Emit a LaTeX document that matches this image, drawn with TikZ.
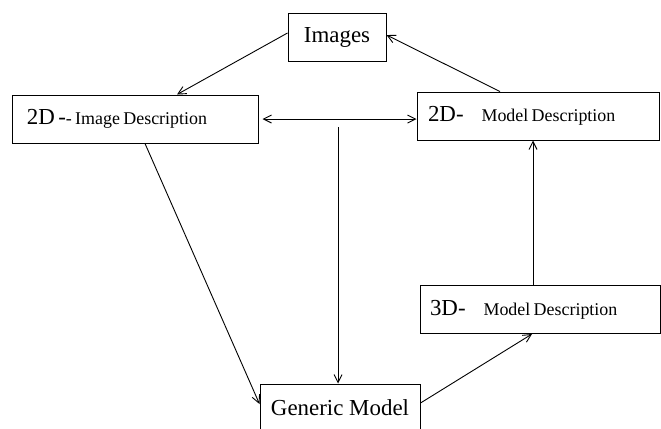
\documentclass[tikz,border=0pt]{standalone}
\usepackage{fontspec}
\setmainfont{Liberation Serif}
\usepackage{tikz}
\usetikzlibrary{
	arrows.meta,
	positioning,
	calc
}

\newcommand{\bigtxt}{\fontsize{23}{26}\selectfont}
\newcommand{\smalltxt}{\fontsize{18}{21}\selectfont}

\tikzset{
	descbox/.style={draw,rectangle,line width=1bp,inner ysep=0pt,
		minimum height=48bp,align=left},
	flow/.style={line width=0.9bp,-{Straight Barb[length=8bp,width=8bp]}}
}

\begin{document}
\begin{tikzpicture}[x=1bp,y=-1bp]
		
		\clip (0,0) rectangle (661,428);
		
		% Boxes
		\node[descbox,minimum width=98bp,align=center] (img) at (337,37) {\bigtxt Images};
		
		\node[descbox,minimum width=245bp,text width=217bp,inner xsep=14bp] (idesc) at (135.5,119)
		{\bigtxt 2D -\smalltxt- Image Description};
		
		\node[descbox,minimum width=242bp,text width=220bp,inner xsep=11bp] (mdesctwo) at (538,116)
		{\bigtxt 2D-\smalltxt\quad Model Description};
		
		\node[descbox,minimum width=240bp,text width=220bp,inner xsep=10bp] (mdescthree) at (540,309.5)
		{\bigtxt 3D-\smalltxt\quad Model Description};
		
		\node[descbox,minimum width=160bp,align=center] (gen) at (340,408) {\bigtxt Generic Model};
		
		\coordinate (split) at (338,127);
		
		% Arrows
		\draw[flow] ([yshift=4bp]img.west) -- ([xshift=41.5bp]idesc.north);
		\draw[flow] ([xshift=-38bp]mdesctwo.north) -- ([yshift=2bp]img.east);
		\draw[flow,{Straight Barb[length=8bp,width=8bp]}-{Straight Barb[length=8bp,width=8bp]},shorten <=4bp]
		(idesc.east) -- (idesc.east -| mdesctwo.west);
		\draw[flow] (split) -- (split |- gen.north);
		\draw[flow] ([xshift=9.5bp]idesc.south) -- ([yshift=4bp]gen.west);
		\draw[flow] ([yshift=5bp]gen.east) -- ([xshift=-8bp]mdescthree.south);
		\draw[flow] ([xshift=-7bp]mdescthree.north) -- ([xshift=-7bp]mdescthree.north |- mdesctwo.south);
		
	\end{tikzpicture}
\end{document}
